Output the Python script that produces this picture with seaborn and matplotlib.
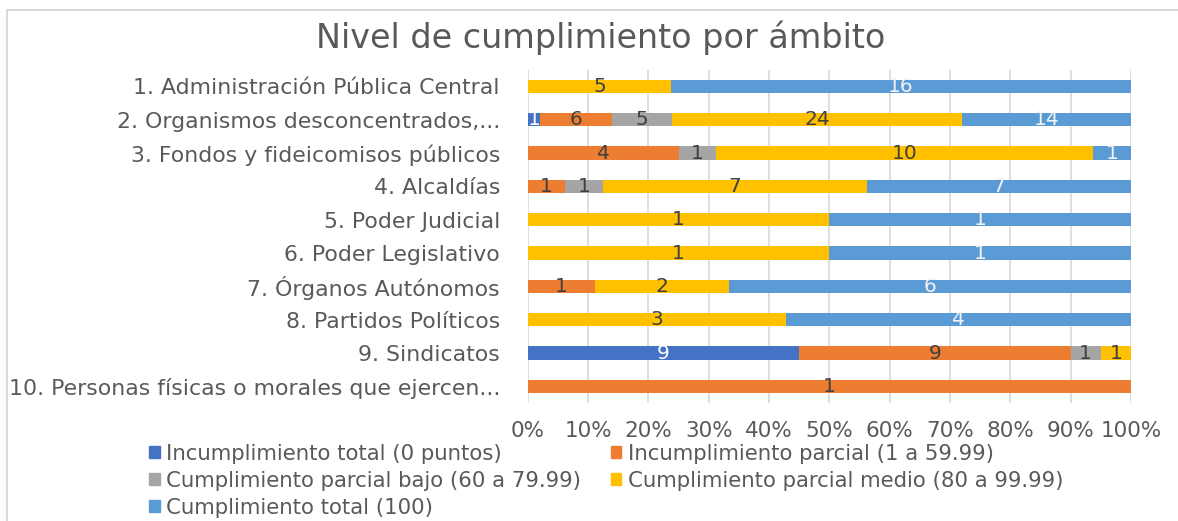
import pandas as pd
import matplotlib.pyplot as plt
import seaborn as sns
from matplotlib.patches import Patch, Rectangle

ambitos = [
    "1. Administración Pública Central",
    "2. Organismos desconcentrados,...",
    "3. Fondos y fideicomisos públicos",
    "4. Alcaldías",
    "5. Poder Judicial",
    "6. Poder Legislativo",
    "7. Órganos Autónomos",
    "8. Partidos Políticos",
    "9. Sindicatos",
    "10. Personas físicas o morales que ejercen...",
]
series = [
    "Incumplimiento total (0 puntos)",
    "Incumplimiento parcial (1 a 59.99)",
    "Cumplimiento parcial bajo (60 a 79.99)",
    "Cumplimiento parcial medio (80 a 99.99)",
    "Cumplimiento total (100)",
]
incumplimiento_total = [0, 1, 0, 0, 0, 0, 0, 0, 9, 0]
incumplimiento_parcial = [0, 6, 4, 1, 0, 0, 1, 0, 9, 1]
parcial_bajo = [0, 5, 1, 1, 0, 0, 0, 0, 1, 0]
parcial_medio = [5, 24, 10, 7, 1, 1, 2, 3, 1, 0]
cumplimiento_total = [16, 14, 1, 7, 1, 1, 6, 4, 0, 0]

colores = ["#4472C4", "#ED7D31", "#A5A5A5", "#FFC000", "#5B9BD5"]
color_texto = ["white", "#404040", "#404040", "#404040", "#F2F2F2"]

conteos = pd.DataFrame(
    dict(zip(series, [incumplimiento_total, incumplimiento_parcial, parcial_bajo,
                      parcial_medio, cumplimiento_total])),
    index=ambitos,
)
pct = conteos.div(conteos.sum(axis=1), axis=0) * 100
acum = pct.cumsum(axis=1)

sns.set_theme(style="white")
plt.rcParams['font.family'] = ['DejaVu Sans']

fig = plt.figure(figsize=(11.78, 5.21), dpi=100)
ax = fig.add_axes([0.448, 0.2265, 0.512, 0.6395])

# barras apiladas: se dibuja el acumulado de mayor a menor, una sobre otra
for s, c in reversed(list(zip(series, colores))):
    sns.barplot(x=acum[s].values, y=ambitos, order=ambitos, orient="h", color=c,
                saturation=1, width=0.4, linewidth=0, ax=ax)

# etiquetas de datos
for j, s in enumerate(series):
    for i, amb in enumerate(ambitos):
        n = conteos.loc[amb, s]
        if n > 0:
            ax.text(acum.loc[amb, s] - pct.loc[amb, s] / 2, i, str(n), ha="center",
                    va="center", fontsize=14.5, color=color_texto[j])

ax.set_xlim(0, 100)
ax.set_xticks(range(0, 101, 10))
ax.set_xticklabels([f"{t}%" for t in range(0, 101, 10)])
ax.grid(axis="x", color="#D9D9D9", linewidth=1.2)
ax.set_axisbelow(True)
for sp in ax.spines.values():
    sp.set_visible(False)
ax.tick_params(axis="both", length=0, colors="#595959")
ax.tick_params(axis="y", pad=20, labelsize=15.8)
ax.tick_params(axis="x", pad=13, labelsize=15.5)
ax.set_xlabel("")
ax.set_ylabel("")

fig.text(0.51, 0.927, "Nivel de cumplimiento por ámbito", ha="center", va="center",
         fontsize=24, color="#595959")

handles = [Patch(color=c) for c in colores]
orden = [0, 2, 4, 1, 3]
fig.legend([handles[k] for k in orden], [series[k] for k in orden], ncol=2,
           loc="upper left", bbox_to_anchor=(0.1265, 0.148), frameon=False,
           fontsize=15.3, handlelength=0.5, handleheight=0.5, handletextpad=0.3,
           columnspacing=1.4, labelspacing=0.33, borderpad=0, borderaxespad=0,
           labelcolor="#595959")

# marco del área del gráfico
fig.patches.append(Rectangle((7 / 1178, -0.1), 1.2, 1 - 10 / 521 + 0.1,
                             transform=fig.transFigure, fill=False,
                             edgecolor="#D9D9D9", linewidth=1.5))

fig.savefig("out.png", dpi=100)
